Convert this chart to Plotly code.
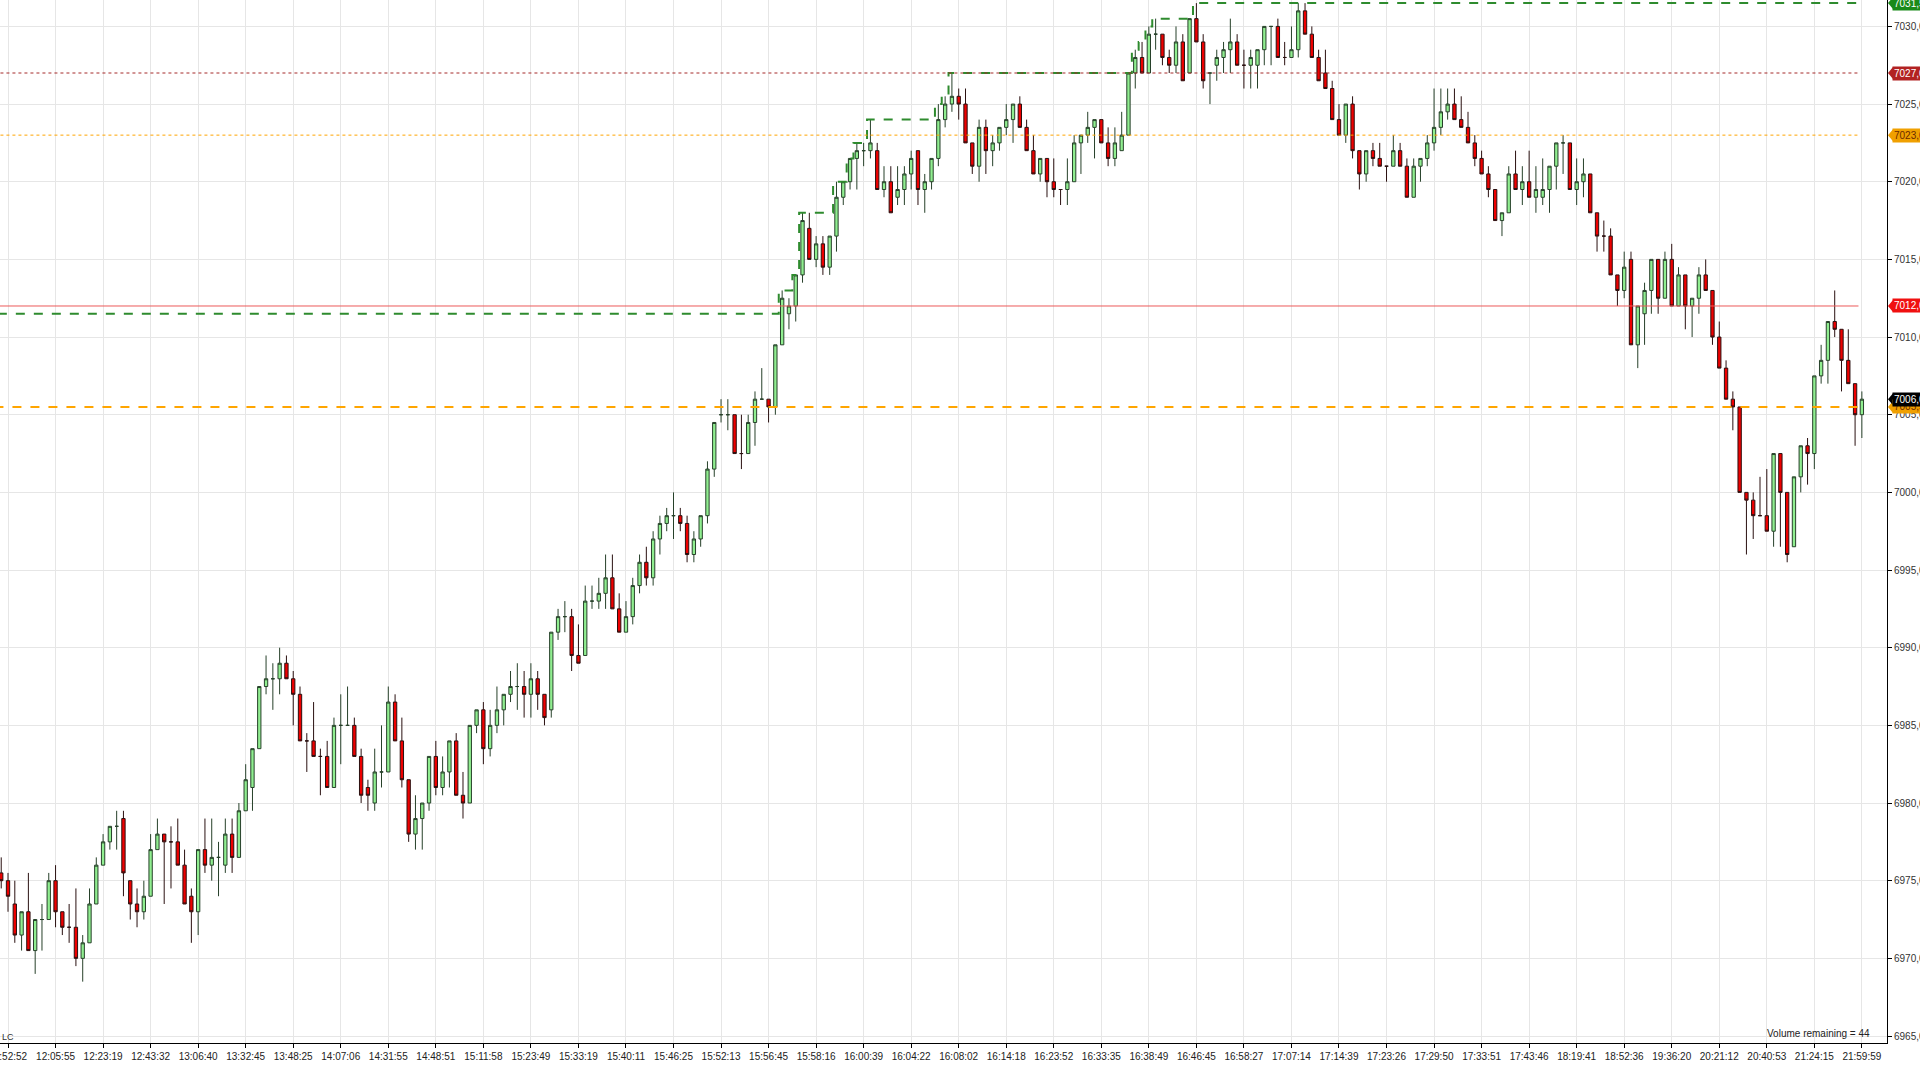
import plotly.graph_objects as go

# =========================================================
# Data: volume bars (one bar per fixed volume)
# =========================================================
opens = [
    6975.5, 6975.0, 6973.5, 6971.5, 6973.0, 6970.5, 6972.5, 6972.5, 6975.0, 6973.0,
    6972.0, 6972.0, 6970.0, 6971.0, 6973.5, 6976.0, 6977.5, 6978.5, 6979.0, 6975.0,
    6973.5, 6973.0, 6974.0, 6977.0, 6978.0, 6977.5, 6977.5, 6976.0, 6974.0, 6973.0,
    6977.0, 6976.0, 6976.5, 6976.0, 6978.0, 6976.5, 6979.5, 6981.0, 6983.5, 6987.5,
    6988.0, 6988.0, 6989.0, 6988.0, 6987.0, 6984.0, 6984.0, 6983.0, 6983.0, 6981.0,
    6985.0, 6985.0, 6985.0, 6983.0, 6981.0, 6980.0, 6982.0, 6982.0, 6986.5, 6984.0,
    6981.5, 6978.0, 6979.0, 6980.0, 6983.0, 6981.0, 6982.0, 6984.0, 6980.5, 6980.0,
    6985.0, 6986.0, 6983.5, 6985.0, 6986.0, 6987.0, 6987.5, 6987.5, 6987.0, 6988.0,
    6987.0, 6986.0, 6991.0, 6992.0, 6992.0, 6989.5, 6989.5, 6993.0, 6993.0, 6993.5,
    6994.5, 6992.5, 6991.0, 6992.0, 6994.0, 6995.5, 6994.5, 6997.0, 6998.0, 6998.5,
    6998.5, 6998.0, 6996.0, 6997.0, 6998.5, 7001.5, 7005.0, 7005.0, 7005.0, 7002.5,
    7002.5, 7004.5, 7006.0, 7006.0, 7005.5, 7009.5, 7011.5, 7012.0, 7014.0, 7017.0,
    7015.0, 7016.0, 7014.5, 7016.5, 7019.0, 7020.0, 7021.5, 7022.0, 7022.0, 7022.0,
    7019.5, 7020.0, 7019.0, 7019.5, 7020.5, 7022.0, 7019.5, 7020.0, 7021.5, 7024.0,
    7025.0, 7025.5, 7025.0, 7022.5, 7021.0, 7023.5, 7022.0, 7022.5, 7023.5, 7024.0,
    7025.0, 7023.5, 7022.0, 7020.5, 7021.5, 7020.0, 7019.5, 7019.5, 7020.0, 7022.5,
    7023.0, 7023.5, 7024.0, 7022.5, 7021.5, 7022.0, 7023.0, 7027.0, 7028.0, 7027.0,
    7029.5, 7029.5, 7028.0, 7027.5, 7029.0, 7027.0, 7030.5, 7029.0, 7027.0, 7027.5,
    7028.0, 7028.5, 7029.0, 7027.5, 7027.5, 7027.5, 7028.5, 7030.0, 7030.0, 7028.0,
    7028.0, 7028.5, 7031.0, 7029.5, 7028.0, 7027.0, 7026.0, 7024.0, 7023.0, 7025.0,
    7022.0, 7020.5, 7022.0, 7021.5, 7021.0, 7021.0, 7022.0, 7021.0, 7019.0, 7021.0,
    7021.5, 7022.5, 7023.5, 7024.5, 7025.0, 7024.0, 7023.5, 7022.5, 7021.5, 7020.5,
    7019.5, 7017.5, 7018.0, 7020.5, 7019.5, 7020.0, 7019.0, 7019.0, 7019.5, 7021.0,
    7022.5, 7022.5, 7019.5, 7020.0, 7020.5, 7018.0, 7016.5, 7016.5, 7014.0, 7013.0,
    7015.0, 7009.5, 7011.5, 7013.0, 7015.0, 7012.5, 7015.0, 7012.0, 7014.0, 7012.0,
    7012.5, 7014.0, 7013.0, 7010.0, 7008.0, 7006.0, 7005.5, 7000.0, 6999.5, 6998.5,
    6998.5, 6997.5, 7002.5, 7000.0, 6996.5, 7001.0, 7003.0, 7002.5, 7007.5, 7008.5,
    7011.0, 7010.5, 7008.5, 7007.0, 7005.0,
]
highs = [
    6976.5, 6975.5, 6975.0, 6973.0, 6975.5, 6972.5, 6973.5, 6975.5, 6976.0, 6973.0,
    6973.5, 6974.5, 6971.5, 6974.5, 6976.5, 6978.0, 6978.5, 6979.5, 6979.5, 6975.0,
    6974.5, 6975.0, 6978.0, 6979.0, 6978.0, 6978.5, 6979.0, 6977.0, 6974.5, 6977.0,
    6979.0, 6979.0, 6977.5, 6979.0, 6979.0, 6980.0, 6982.5, 6983.5, 6987.5, 6989.5,
    6989.0, 6990.0, 6989.5, 6988.5, 6987.5, 6984.5, 6986.5, 6983.5, 6984.0, 6985.5,
    6987.0, 6987.5, 6985.5, 6983.5, 6981.5, 6983.5, 6985.0, 6987.5, 6987.0, 6985.5,
    6981.5, 6980.5, 6980.0, 6983.0, 6984.0, 6983.0, 6984.0, 6984.5, 6982.0, 6985.0,
    6986.0, 6986.5, 6986.0, 6987.5, 6987.0, 6988.5, 6989.0, 6988.5, 6989.0, 6988.5,
    6987.0, 6991.0, 6992.5, 6993.0, 6992.5, 6991.5, 6994.0, 6994.0, 6994.5, 6996.0,
    6996.0, 6993.5, 6993.0, 6994.5, 6996.0, 6996.5, 6997.5, 6998.5, 6999.0, 7000.0,
    6999.0, 6998.5, 6997.5, 6998.5, 7002.0, 7004.5, 7006.0, 7006.0, 7005.0, 7005.0,
    7005.0, 7006.5, 7008.0, 7006.0, 7009.5, 7013.0, 7012.5, 7014.0, 7018.0, 7018.0,
    7016.5, 7016.5, 7016.5, 7020.0, 7020.0, 7021.5, 7022.5, 7022.5, 7024.0, 7022.5,
    7021.0, 7021.0, 7021.0, 7021.0, 7022.0, 7022.0, 7020.5, 7021.5, 7025.0, 7025.5,
    7027.0, 7026.0, 7026.0, 7022.5, 7024.0, 7024.0, 7023.0, 7023.5, 7025.0, 7025.0,
    7025.5, 7024.0, 7023.0, 7021.5, 7021.5, 7021.5, 7019.5, 7021.5, 7023.0, 7023.0,
    7024.5, 7024.0, 7024.0, 7023.5, 7023.5, 7024.5, 7027.0, 7028.5, 7029.0, 7030.0,
    7030.5, 7029.5, 7028.5, 7030.0, 7029.5, 7030.5, 7031.5, 7029.5, 7027.0, 7028.5,
    7029.0, 7030.5, 7029.5, 7028.5, 7028.5, 7028.5, 7030.0, 7030.0, 7030.5, 7029.0,
    7030.0, 7031.5, 7031.5, 7030.0, 7028.5, 7028.5, 7026.5, 7025.0, 7025.0, 7025.5,
    7022.0, 7022.0, 7022.5, 7022.5, 7021.0, 7023.0, 7022.5, 7021.5, 7021.5, 7021.5,
    7023.0, 7026.0, 7026.0, 7026.0, 7026.0, 7025.5, 7024.5, 7023.0, 7022.0, 7021.0,
    7019.5, 7018.0, 7021.0, 7022.0, 7021.0, 7022.0, 7021.0, 7021.5, 7021.0, 7022.5,
    7023.0, 7022.5, 7021.5, 7021.5, 7020.5, 7018.0, 7017.5, 7017.0, 7014.0, 7015.5,
    7015.5, 7012.0, 7013.5, 7015.0, 7015.0, 7015.5, 7016.0, 7014.5, 7014.0, 7012.5,
    7014.5, 7015.0, 7013.0, 7011.0, 7008.5, 7006.5, 7005.5, 7000.0, 7000.0, 7001.0,
    7001.5, 7002.5, 7002.5, 7000.0, 7001.0, 7003.0, 7003.5, 7007.5, 7009.5, 7011.0,
    7013.0, 7010.5, 7010.5, 7007.0, 7006.5,
]
lows = [
    6974.5, 6973.0, 6971.0, 6970.5, 6970.5, 6969.0, 6970.5, 6972.5, 6972.0, 6971.5,
    6971.0, 6969.5, 6968.5, 6971.0, 6973.5, 6976.0, 6977.0, 6977.0, 6974.0, 6972.5,
    6972.0, 6972.5, 6974.0, 6977.0, 6973.5, 6974.5, 6976.0, 6973.5, 6971.0, 6971.5,
    6975.5, 6975.0, 6974.0, 6975.5, 6975.5, 6976.5, 6979.5, 6979.5, 6983.5, 6987.0,
    6986.0, 6987.0, 6988.0, 6985.0, 6984.0, 6982.0, 6983.0, 6980.5, 6981.0, 6981.0,
    6982.5, 6985.0, 6983.0, 6980.0, 6979.5, 6979.5, 6981.0, 6982.0, 6984.0, 6981.0,
    6977.5, 6977.0, 6977.0, 6979.5, 6980.5, 6980.5, 6981.0, 6980.5, 6979.0, 6980.0,
    6984.5, 6982.5, 6983.0, 6984.5, 6985.0, 6986.5, 6986.0, 6985.5, 6985.5, 6986.0,
    6985.0, 6985.5, 6990.5, 6991.0, 6988.5, 6989.0, 6989.5, 6992.5, 6992.5, 6992.5,
    6992.5, 6991.0, 6991.0, 6991.5, 6993.5, 6994.0, 6994.0, 6996.0, 6997.5, 6997.0,
    6997.5, 6995.5, 6995.5, 6996.5, 6998.0, 7001.0, 7004.5, 7004.0, 7002.5, 7001.5,
    7002.5, 7003.0, 7006.0, 7004.5, 7005.0, 7009.5, 7010.5, 7011.0, 7013.5, 7015.0,
    7014.5, 7014.0, 7014.0, 7015.5, 7018.5, 7019.5, 7019.5, 7021.0, 7021.5, 7019.5,
    7019.0, 7018.0, 7018.5, 7018.5, 7019.5, 7018.5, 7018.0, 7019.5, 7021.0, 7023.5,
    7024.5, 7024.0, 7022.5, 7020.5, 7020.0, 7020.5, 7021.0, 7022.0, 7023.0, 7022.5,
    7023.5, 7022.0, 7020.5, 7020.0, 7019.0, 7019.0, 7018.5, 7018.5, 7020.0, 7020.5,
    7022.5, 7021.5, 7022.5, 7021.0, 7021.0, 7022.0, 7023.0, 7026.0, 7027.0, 7027.0,
    7028.5, 7027.5, 7027.0, 7027.0, 7026.5, 7027.0, 7029.0, 7026.0, 7025.0, 7026.5,
    7027.0, 7027.0, 7027.5, 7026.0, 7026.0, 7026.0, 7027.5, 7027.5, 7028.0, 7027.5,
    7028.0, 7028.0, 7029.5, 7028.0, 7026.5, 7026.0, 7024.0, 7023.0, 7022.5, 7021.5,
    7019.5, 7020.0, 7021.0, 7021.0, 7020.0, 7021.0, 7021.0, 7019.0, 7019.0, 7020.0,
    7021.0, 7022.0, 7023.0, 7024.0, 7024.0, 7023.5, 7022.5, 7021.0, 7020.5, 7019.0,
    7017.5, 7016.5, 7018.0, 7019.5, 7018.5, 7019.0, 7018.0, 7018.5, 7018.0, 7019.5,
    7020.5, 7019.5, 7018.5, 7019.0, 7018.0, 7015.5, 7015.5, 7014.0, 7012.0, 7012.5,
    7009.5, 7008.0, 7009.5, 7011.5, 7011.5, 7012.5, 7012.0, 7012.0, 7010.5, 7010.0,
    7011.5, 7013.0, 7009.5, 7008.0, 7006.0, 7004.0, 7000.0, 6996.0, 6997.0, 6998.5,
    6997.5, 6996.5, 6996.5, 6995.5, 6996.5, 7000.0, 7000.5, 7001.5, 7007.0, 7007.0,
    7010.0, 7006.5, 7007.0, 7003.0, 7003.5,
]
closes = [
    6975.0, 6974.0, 6971.5, 6973.0, 6970.5, 6972.5, 6972.5, 6975.0, 6973.0, 6972.0,
    6972.0, 6970.0, 6971.0, 6973.5, 6976.0, 6977.5, 6978.5, 6978.5, 6975.5, 6973.5,
    6973.0, 6974.0, 6977.0, 6978.0, 6977.5, 6977.5, 6976.0, 6973.5, 6973.0, 6977.0,
    6976.0, 6976.5, 6976.5, 6978.0, 6976.5, 6979.5, 6981.5, 6983.5, 6987.5, 6988.0,
    6988.0, 6989.0, 6988.0, 6987.0, 6984.0, 6984.0, 6983.0, 6983.0, 6981.0, 6985.0,
    6985.0, 6985.0, 6983.0, 6980.5, 6980.5, 6982.0, 6982.0, 6986.5, 6984.0, 6981.5,
    6978.0, 6979.0, 6980.0, 6983.0, 6981.0, 6982.0, 6984.0, 6980.5, 6980.0, 6985.0,
    6986.0, 6983.5, 6985.0, 6986.0, 6987.0, 6987.5, 6987.5, 6987.0, 6988.0, 6987.0,
    6985.5, 6991.0, 6992.0, 6992.0, 6989.5, 6989.0, 6993.0, 6993.0, 6993.5, 6994.5,
    6992.5, 6991.0, 6992.0, 6994.0, 6995.5, 6994.5, 6997.0, 6998.0, 6998.5, 6998.5,
    6998.0, 6996.0, 6997.0, 6998.5, 7001.5, 7004.5, 7005.0, 7005.0, 7002.5, 7002.5,
    7004.5, 7006.0, 7006.0, 7005.5, 7009.5, 7012.5, 7012.0, 7014.0, 7017.5, 7015.0,
    7016.0, 7014.5, 7016.5, 7019.0, 7020.0, 7021.5, 7022.0, 7022.0, 7022.5, 7019.5,
    7020.0, 7018.0, 7019.5, 7020.5, 7021.5, 7019.5, 7020.0, 7021.5, 7024.0, 7025.0,
    7025.5, 7025.0, 7022.5, 7021.0, 7023.5, 7022.0, 7022.5, 7023.5, 7024.0, 7025.0,
    7023.5, 7022.0, 7020.5, 7021.5, 7020.0, 7019.5, 7019.5, 7020.0, 7022.5, 7023.0,
    7023.5, 7024.0, 7022.5, 7021.5, 7022.5, 7023.0, 7027.0, 7028.0, 7027.0, 7029.5,
    7029.5, 7028.0, 7027.5, 7029.0, 7026.5, 7030.5, 7029.0, 7026.5, 7027.0, 7028.0,
    7028.5, 7029.0, 7027.5, 7027.5, 7028.0, 7028.5, 7030.0, 7030.0, 7028.0, 7028.0,
    7028.5, 7031.0, 7029.5, 7028.0, 7026.5, 7026.0, 7024.0, 7023.0, 7025.0, 7022.0,
    7020.5, 7022.0, 7021.5, 7021.0, 7021.0, 7022.0, 7021.0, 7019.0, 7021.0, 7021.5,
    7022.5, 7023.5, 7024.5, 7025.0, 7024.0, 7023.5, 7022.5, 7021.5, 7020.5, 7019.5,
    7017.5, 7018.0, 7020.5, 7019.5, 7020.0, 7019.0, 7019.5, 7019.5, 7021.0, 7022.5,
    7022.5, 7019.5, 7020.0, 7020.5, 7018.0, 7016.5, 7016.5, 7014.0, 7013.0, 7014.5,
    7009.5, 7012.0, 7013.0, 7015.0, 7012.5, 7015.0, 7012.0, 7014.0, 7012.0, 7012.5,
    7014.0, 7013.0, 7010.0, 7008.0, 7006.0, 7005.5, 7000.0, 6999.5, 6998.5, 6998.5,
    6997.5, 7002.5, 7000.0, 6996.0, 7001.0, 7003.0, 7002.5, 7007.5, 7008.5, 7011.0,
    7010.5, 7008.5, 7007.0, 7005.0, 7006.0,
]

# x axis: one label every 7 bars, starting at bar 1
tick_bars = list(range(1, 275, 7))
tick_labels = [
    "11:52:52", "12:05:55", "12:23:19", "12:43:32", "13:06:40", "13:32:45", "13:48:25", "14:07:06",
    "14:31:55", "14:48:51", "15:11:58", "15:23:49", "15:33:19", "15:40:11", "15:46:25", "15:52:13",
    "15:56:45", "15:58:16", "16:00:39", "16:04:22", "16:08:02", "16:14:18", "16:23:52", "16:33:35",
    "16:38:49", "16:46:45", "16:58:27", "17:07:14", "17:14:39", "17:23:26", "17:29:50", "17:33:51",
    "17:43:46", "18:19:41", "18:52:36", "19:36:20", "20:21:12", "20:40:53", "21:24:15", "21:59:59",
]

# price levels drawn across the chart
prior_high = 7011.5
level_values = [7027.0, 7023.0, 7012.0, 7005.5]
level_colors = ["#a52a2a", "#ffa500", "#ec5a5a", "#ffa500"]
level_dashes = ["dot", "dot", "solid", "dash"]
level_widths = [1, 1, 1, 2]

volume_remaining = 44

bars = list(range(len(closes)))
last_bar = bars[-1]
line_end = last_bar - 0.5

# running session high, starting from the prior high
session_high = []
running = prior_high
for h in highs:
    running = max(running, h)
    session_high.append(running)


def fmt(v):
    return f"{v:.1f}".replace(".", ",")


# =========================================================
# Figure: candles
# =========================================================
figure = go.Figure()

figure.add_trace(
    go.Candlestick(
        x=bars,
        open=opens,
        high=highs,
        low=lows,
        close=closes,
        increasing=dict(fillcolor="#90ee90", line=dict(color="#27412a", width=1)),
        decreasing=dict(fillcolor="#ee0000", line=dict(color="#2a1010", width=1)),
        whiskerwidth=0,
        showlegend=False,
    )
)

# session high step line
figure.add_trace(
    go.Scatter(
        x=[b - 0.5 for b in bars] + [line_end],
        y=session_high + [session_high[-1]],
        mode="lines",
        line=dict(color="#2e8b2e", width=2, dash="dash", shape="hv"),
        showlegend=False,
        hoverinfo="skip",
    )
)
figure.add_trace(
    go.Scatter(
        x=[-1, -0.5],
        y=[prior_high, prior_high],
        mode="lines",
        line=dict(color="#2e8b2e", width=2, dash="dash"),
        showlegend=False,
        hoverinfo="skip",
    )
)

for value, color, dash, width in zip(level_values, level_colors, level_dashes, level_widths):
    figure.add_shape(
        type="line",
        x0=-1,
        x1=line_end,
        y0=value,
        y1=value,
        line=dict(color=color, dash=dash, width=width),
    )

# =========================================================
# Price tags on the right axis
# =========================================================
tags = [
    (session_high[-1], "#1a8a1a", "white"),
    (level_values[0], "#b22222", "white"),
    (level_values[1], "#f0a000", "#6b2a00"),
    (level_values[2], "#f01010", "white"),
    (level_values[3], "#f0a000", "#6b2a00"),
    (closes[-1], "#000000", "white"),
]
plot_w = 1887
half = 6 / 15.53
for value, bg, fg in tags:
    figure.add_shape(
        type="path",
        xref="paper",
        yref="y",
        path=f"M {1 + 1 / plot_w},{value} L {1 + 6 / plot_w},{value + half} L {1 + 6 / plot_w},{value - half} Z",
        fillcolor=bg,
        line=dict(width=0),
    )
    figure.add_annotation(
        x=1,
        xref="paper",
        y=value,
        yref="y",
        text=fmt(value),
        showarrow=False,
        xanchor="left",
        xshift=5,
        bgcolor=bg,
        borderpad=1,
        font=dict(family="Arial", size=10, color=fg),
    )

figure.add_annotation(
    x=0.992,
    xref="paper",
    y=0.009,
    yref="paper",
    text=f"Volume remaining = {volume_remaining}",
    showarrow=False,
    xanchor="right",
    yanchor="middle",
    font=dict(family="Arial", size=10, color="#222222"),
)
figure.add_annotation(
    x=0,
    xref="paper",
    y=0.006,
    yref="paper",
    text="LC",
    showarrow=False,
    xanchor="left",
    yanchor="middle",
    font=dict(family="Arial", size=9, color="#333333"),
)

figure.update_layout(
    width=1920,
    height=1066,
    margin=dict(l=0, r=33, t=0, b=23, autoexpand=False),
    paper_bgcolor="white",
    plot_bgcolor="white",
    separators=",.",
    showlegend=False,
    font=dict(family="Arial", color="#333333"),
    xaxis=dict(
        range=[-0.18, 277.7],
        tickvals=tick_bars,
        ticktext=tick_labels,
        tickfont=dict(size=10, color="#222222"),
        ticks="outside",
        ticklen=4,
        tickcolor="#000000",
        showline=True,
        linecolor="#000000",
        linewidth=1,
        showgrid=True,
        gridcolor="#e6e6e6",
        zeroline=False,
        automargin=False,
        ticklabeloverflow="allow",
        rangeslider=dict(visible=False),
    ),
    yaxis=dict(
        side="right",
        range=[6964.55, 7031.7],
        dtick=5,
        tick0=6965,
        tickformat=".1f",
        tickfont=dict(size=10, color="#333333"),
        ticks="outside",
        ticklen=4,
        tickcolor="#000000",
        showline=True,
        linecolor="#000000",
        linewidth=1,
        showgrid=True,
        gridcolor="#e6e6e6",
        zeroline=False,
        automargin=False,
        ticklabeloverflow="allow",
    ),
)

# the page body has a default margin; drop it so the chart sits at the window corner
figure.write_html(
    "out.html",
    config={"displayModeBar": False},
    post_script="document.body.style.margin='0';document.body.style.overflow='hidden';",
)
